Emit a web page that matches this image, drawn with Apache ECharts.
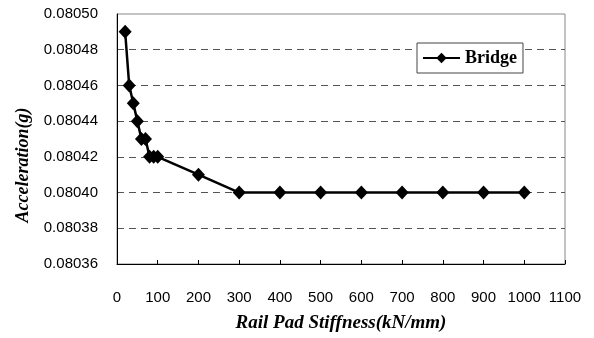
<!DOCTYPE html>
<html>
<head>
<meta charset="utf-8">
<script src="https://cdn.jsdelivr.net/npm/echarts@6/dist/echarts.min.js"></script>
<style>
  html, body { margin: 0; padding: 0; background: #fff; }
  #chart { width: 594px; height: 338px; }
</style>
</head>
<body>
<div id="chart"></div>
<script>
// Rail pad stiffness (kN/mm) and bridge acceleration (g)
const stiffness = [20, 30, 40, 50, 60, 70, 80, 90, 100, 200, 300, 400, 500, 600, 700, 800, 900, 1000];
const bridgeAccel = [0.08049, 0.08046, 0.08045, 0.08044, 0.08043, 0.08043, 0.08042, 0.08042, 0.08042,
                     0.08041, 0.08040, 0.08040, 0.08040, 0.08040, 0.08040, 0.08040, 0.08040, 0.08040];
const seriesName = 'Bridge';
const xTitle = 'Rail Pad Stiffness(kN/mm)';
const yTitle = 'Acceleration(g)';

const chart = echarts.init(document.getElementById('chart'), null, { renderer: 'canvas' });

const labelFont = { color: '#000', fontFamily: 'Liberation Sans, Arial, sans-serif', fontSize: 15 };
const serifFamily = 'Liberation Serif, Times New Roman, serif';

chart.setOption({
  animation: false,
  backgroundColor: '#fff',
  grid: {
    left: 117, right: 29, top: 14, bottom: 65,
    show: true, borderColor: '#888', borderWidth: 1, backgroundColor: 'transparent'
  },
  legend: {
    data: [seriesName],
    left: 417, top: 43,
    orient: 'horizontal',
    backgroundColor: '#fff',
    borderColor: '#444', borderWidth: 1,
    padding: [6, 6, 6, 5],
    itemWidth: 37, itemHeight: 13, itemGap: 4,
    textStyle: { color: '#000', fontFamily: serifFamily, fontWeight: 'bold', fontSize: 18 }
  },
  xAxis: {
    type: 'value', min: 0, max: 1100, interval: 100,
    name: xTitle, nameLocation: 'middle', nameGap: 50,
    nameTextStyle: { color: '#000', fontFamily: serifFamily, fontStyle: 'italic', fontWeight: 'bold', fontSize: 19 },
    axisLine: { show: true, lineStyle: { color: '#000', width: 1 } },
    axisTick: { show: true, inside: true, length: 4, lineStyle: { color: '#000' } },
    axisLabel: Object.assign({ margin: 26, formatter: v => String(v) }, labelFont),
    splitLine: { show: false }
  },
  yAxis: {
    type: 'value', min: 0.08036, max: 0.08050, interval: 0.00002,
    axisLine: { show: true, lineStyle: { color: '#000', width: 1 } },
    axisTick: { show: false },
    axisLabel: Object.assign({ margin: 19, formatter: v => v.toFixed(5) }, labelFont),
    splitLine: {
      show: true, showMinLine: false, showMaxLine: false,
      lineStyle: { color: '#555', type: [7, 5], width: 1 }
    }
  },
  graphic: [{
    type: 'text',
    x: 23, y: 165,
    rotation: Math.PI / 2,
    style: {
      text: yTitle, fill: '#000', fontSize: 18,
      fontFamily: serifFamily, fontStyle: 'italic', fontWeight: 'bold',
      align: 'center', verticalAlign: 'middle'
    }
  }],
  series: [{
    name: seriesName,
    type: 'line',
    data: stiffness.map((x, i) => [x, bridgeAccel[i]]),
    symbol: 'diamond',
    symbolSize: [13, 14],
    showAllSymbol: true,
    itemStyle: { color: '#000' },
    lineStyle: { color: '#000', width: 2.5 }
  }]
});
</script>
</body>
</html>
